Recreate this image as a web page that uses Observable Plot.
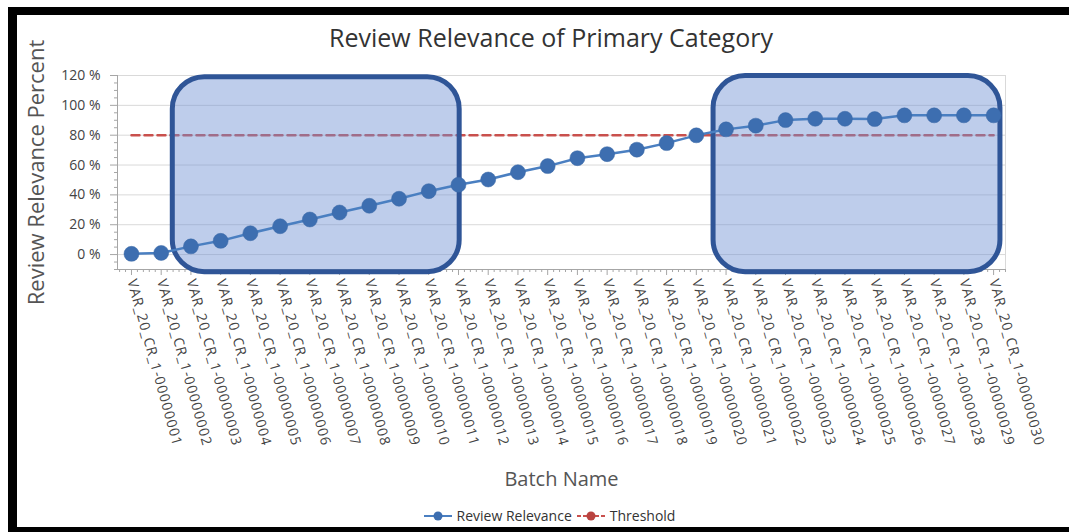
<!DOCTYPE html>
<html><head><meta charset="utf-8">
<script src="https://cdn.jsdelivr.net/npm/d3@7"></script>
<script src="https://cdn.jsdelivr.net/npm/@observablehq/plot@0.6"></script>
<style>
html,body{margin:0;padding:0;background:#fff;}
#wrap{position:relative;width:1069px;height:532px;overflow:hidden;font-family:"Open Sans",sans-serif;}
#frame{position:absolute;left:8px;top:7px;right:-20px;bottom:0;border-top:8px solid #000;border-left:9px solid #000;border-bottom:5px solid #000;box-sizing:border-box;}
#chart{position:absolute;left:0;top:0;}
#chart svg g[aria-label="x-axis tick label"] text{letter-spacing:0.9px;}
#title{position:absolute;left:0;width:1102px;top:21px;text-align:center;font-size:25px;line-height:32px;color:#333;}
#legend{position:absolute;left:0;width:1098px;top:506px;text-align:center;font-size:14px;line-height:20px;color:#333;white-space:nowrap;}
#legend span.item{display:inline-flex;align-items:center;margin:0 2px;}
#legend svg{margin-right:4px;}
</style>
</head><body>
<div id="wrap">
  <div id="frame"></div>
  <div id="chart"></div>
  <div id="title">Review Relevance of Primary Category</div>
  <div id="legend"></div>
</div>
<script>
const batchNames = [
  "VAR_20_CR_1-00000001","VAR_20_CR_1-00000002","VAR_20_CR_1-00000003","VAR_20_CR_1-00000004","VAR_20_CR_1-00000005",
  "VAR_20_CR_1-00000006","VAR_20_CR_1-00000007","VAR_20_CR_1-00000008","VAR_20_CR_1-00000009","VAR_20_CR_1-00000010",
  "VAR_20_CR_1-00000011","VAR_20_CR_1-00000012","VAR_20_CR_1-00000013","VAR_20_CR_1-00000014","VAR_20_CR_1-00000015",
  "VAR_20_CR_1-00000016","VAR_20_CR_1-00000017","VAR_20_CR_1-00000018","VAR_20_CR_1-00000019","VAR_20_CR_1-00000020",
  "VAR_20_CR_1-00000021","VAR_20_CR_1-00000022","VAR_20_CR_1-00000023","VAR_20_CR_1-00000024","VAR_20_CR_1-00000025",
  "VAR_20_CR_1-00000026","VAR_20_CR_1-00000027","VAR_20_CR_1-00000028","VAR_20_CR_1-00000029","VAR_20_CR_1-00000030"
];
const reviewRelevance = [0.5, 1.1, 5.5, 9.2, 14.3, 19.0, 23.5, 28.2, 32.7, 37.4,
  42.5, 46.8, 50.3, 55.2, 59.3, 64.6, 67.3, 70.3, 74.7, 79.9,
  83.9, 86.4, 90.1, 91.0, 91.0, 90.8, 93.3, 93.3, 93.3, 93.3];
const threshold = [80,80,80,80,80,80,80,80,80,80,80,80,80,80,80,80,80,80,80,80,80,80,80,80,80,80,80,80,80,80];
const yTickValues = [0, 20, 40, 60, 80, 100, 120];
// highlight boxes (in batch-index / percent units)
const boxStart = [1.39, 19.58];
const boxEnd = [11.04, 29.23];
const boxTop = [118.9, 119.6];
const boxBottom = [-11.8, -11.8];

const xDomain = [-0.47, 29.4];
const yDomain = [-10, 120];

const rows = batchNames.map((name, i) => ({i, name, value: reviewRelevance[i], threshold: threshold[i]}));
const boxes = boxStart.map((s, k) => ({x1: s, x2: boxEnd[k], y1: boxBottom[k], y2: boxTop[k]}));
const xMajor = d3.range(batchNames.length);
const xMinor = d3.range(-2, 148).map(k => k / 5).filter(v => v % 1 !== 0 && v >= xDomain[0] && v <= xDomain[1]);
const yMinor = d3.range(-10, 121, 5).filter(v => v % 20 !== 0);

const axisGray = "#a6a6a6";
const chart = Plot.plot({
  width: 1069, height: 532,
  marginLeft: 117, marginRight: 64, marginTop: 75, marginBottom: 263,
  style: {background: "transparent", fontFamily: "Open Sans", color: "#444"},
  x: {type: "linear", domain: xDomain},
  y: {domain: yDomain},
  marks: [
    Plot.frame({stroke: "#d9d9d9"}),
    Plot.gridY(yTickValues, {stroke: "#d9d9d9", strokeOpacity: 1}),
    Plot.ruleX([xDomain[0]], {stroke: axisGray}),
    Plot.ruleY([yDomain[0]], {stroke: axisGray}),
    Plot.axisY(yTickValues, {tickSize: 7, tickPadding: 10, tickFormat: d => d + " %", stroke: axisGray, fill: "#444", fontSize: 14, label: null}),
    Plot.axisY(yMinor, {tickSize: 3, text: null, stroke: axisGray, label: null}),
    Plot.axisX(xMajor, {tickSize: 6, tickRotate: 74.5, textAnchor: "start", tickFormat: i => batchNames[i], stroke: axisGray, fill: "#444", fontSize: 14, label: null}),
    Plot.axisX(xMinor, {tickSize: 3, text: null, stroke: axisGray, label: null}),
    Plot.text(["Review Relevance Percent"], {frameAnchor: "left", dx: -81, rotate: -90, textAnchor: "middle", lineAnchor: "middle", fontSize: 22, fill: "#555"}),
    Plot.text(["Batch Name"], {frameAnchor: "bottom", dy: 210, lineAnchor: "middle", fontSize: 20, fill: "#555"}),
    Plot.line(rows, {x: "i", y: "threshold", stroke: "#c9504d", strokeWidth: 2.5, strokeDasharray: "8,5"}),
    Plot.rect(boxes, {x1: "x1", x2: "x2", y1: "y1", y2: "y2", rx: 32, fill: "#6f90d3", fillOpacity: 0.45, stroke: "#2f5597", strokeWidth: 5}),
    Plot.line(rows, {x: "i", y: "value", stroke: "#4a7fc1", strokeWidth: 2.5}),
    Plot.dot(rows, {x: "i", y: "value", r: 7.5, fill: "#3d6eb0", stroke: "#3a68a6", strokeWidth: 0.5})
  ]
});
document.getElementById("chart").appendChild(chart);

// legend
const legendItems = [
  {label: "Review Relevance", color: "#4a7fc1", dot: "#3d6eb0", dash: null},
  {label: "Threshold", color: "#c9504d", dot: "#b94340", dash: "4,2"}
];
const legend = document.getElementById("legend");
legendItems.forEach(it => {
  const span = document.createElement("span");
  span.className = "item";
  span.innerHTML = `<svg width="30" height="12"><line x1="1" x2="29" y1="6" y2="6" stroke="${it.color}" stroke-width="2"${it.dash ? ` stroke-dasharray="${it.dash}"` : ""}/><circle cx="15" cy="6" r="4.5" fill="${it.dot}"/></svg>${it.label}`;
  legend.appendChild(span);
});
</script>
</body></html>
